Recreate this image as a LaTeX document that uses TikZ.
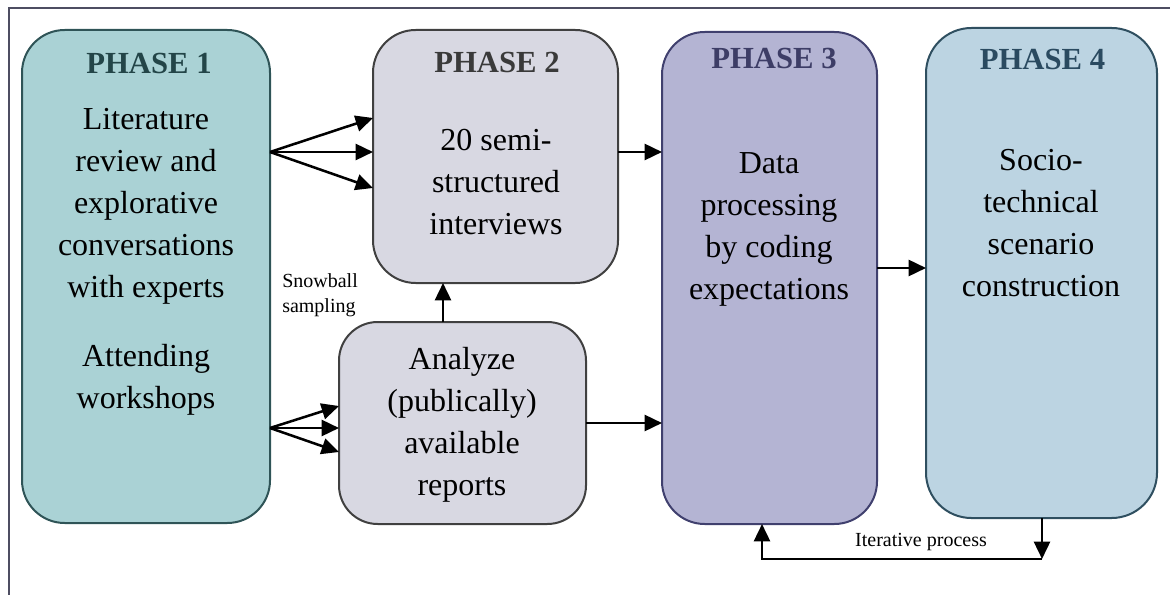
\documentclass[tikz,border=0pt]{standalone}
\usepackage{fontspec}
\setmainfont{Liberation Serif}
\usetikzlibrary{arrows.meta}

\definecolor{frameC}{HTML}{4E4E62}
\definecolor{oneFill}{HTML}{AAD2D5}
\definecolor{oneLine}{HTML}{2F5457}
\definecolor{oneText}{HTML}{234548}
\definecolor{twoFill}{HTML}{D8D8E2}
\definecolor{twoLine}{HTML}{404040}
\definecolor{twoText}{HTML}{3A3A3A}
\definecolor{threeFill}{HTML}{B4B4D3}
\definecolor{threeLine}{HTML}{40406E}
\definecolor{threeText}{HTML}{3D3D66}
\definecolor{fourFill}{HTML}{BCD4E2}
\definecolor{fourLine}{HTML}{2F4F60}
\definecolor{fourText}{HTML}{2A4A60}

\tikzset{
  phasebox/.style={draw, line width=1.5pt, rounded corners=32pt, inner sep=0pt, outer sep=0pt},
  titletext/.style={font=\fontsize{23}{28}\selectfont\bfseries, inner sep=0pt},
  bodytext/.style={font=\fontsize{24}{31.5}\selectfont, align=center, inner sep=0pt, text=black},
  smalltext/.style={font=\fontsize{15}{18.75}\selectfont, inner sep=0pt},
  arr/.style={line width=1.9pt, -{Triangle[length=13pt,width=12pt]}}
}

\begin{document}
\begin{tikzpicture}[x=0.75pt,y=-0.75pt]
\useasboundingbox (0,0) rectangle (1170,595);
\clip (0,0) rectangle (1170,595);

% outer frame
\draw[frameC, line width=1.5pt] (9,610) -- (9,8) -- (1180,8);

% phase boxes
\node[phasebox, draw=oneLine, fill=oneFill, minimum width=186pt, minimum height=369.75pt] (p1) at (146,276.5) {};
\node[phasebox, draw=twoLine, fill=twoFill, minimum width=183.75pt, minimum height=189.75pt] (p2) at (495.5,156.5) {};
\node[phasebox, draw=twoLine, fill=twoFill, minimum width=185.25pt, minimum height=151.5pt, rounded corners=29pt] (an) at (462.5,423) {};
\node[phasebox, draw=threeLine, fill=threeFill, minimum width=161.25pt, minimum height=369pt] (p3) at (769.5,278) {};
\node[phasebox, draw=fourLine, fill=fourFill, minimum width=173.25pt, minimum height=367.5pt, rounded corners=34pt] (p4) at (1041.5,273) {};

% titles
\node[titletext, text=oneText] (t1) at (149,64) {PHASE 1};
\node[titletext, text=twoText] (t2) at (497,62.5) {PHASE 2};
\node[titletext, text=threeText] (t3) at (774,59) {PHASE 3};
\node[titletext, text=fourText] (t4) at (1042.5,60) {PHASE 4};

% body texts
\node[bodytext] (b1) at (146,206) {Literature\\review and\\explorative\\conversations\\with experts};
\node[bodytext] (b1w) at (146,380) {Attending\\workshops};
\node[bodytext] (b2) at (496,182.5) {20 semi-\\structured\\interviews};
\node[bodytext] (ban) at (462,424.5) {Analyze\\(publically)\\available\\reports};
\node[bodytext] (b3) at (769,229) {Data\\processing\\by coding\\expectations};
\node[bodytext] (b4) at (1041,223.5) {Socio-\\technical\\scenario\\construction};

% small labels
\node[smalltext, align=left, anchor=west] (snow) at (282,295) {Snowball\\sampling};
\node[smalltext] (iter) at (921,542) {Iterative process};

% fan from phase 1 to phase 2
\coordinate (fa) at (p1.east |- 0,152);
\draw[arr] (fa) -- (p2.west |- 0,118);
\draw[arr] (fa) -- (p2.west |- 0,152);
\draw[arr] (fa) -- (p2.west |- 0,188);

% fan from phase 1 to report analysis
\coordinate (fb) at (p1.east |- 0,428);
\draw[arr] (fb) -- (an.west |- 0,406);
\draw[arr] (fb) -- (an.west |- 0,428);
\draw[arr] (fb) -- (an.west |- 0,452);

% report analysis feeds the interviews
\draw[arr] (443,0 |- an.north) -- (443,0 |- p2.south);

% into phase 3 and on to phase 4
\draw[arr] (p2.east |- 0,152) -- (p3.west |- 0,152);
\draw[arr] (an.east |- 0,423) -- (p3.west |- 0,423);
\draw[arr] (p3.east |- 0,268) -- (p4.west |- 0,268);

% iteration loop back from phase 4 to phase 3
\coordinate (ic) at (1042,559);
\coordinate (ib) at (762,559);
\draw[arr] (1042,0 |- p4.south) -- (ic);
\draw[arr] (ic) -- (ib) -- (762,0 |- p3.south);
\end{tikzpicture}
\end{document}
